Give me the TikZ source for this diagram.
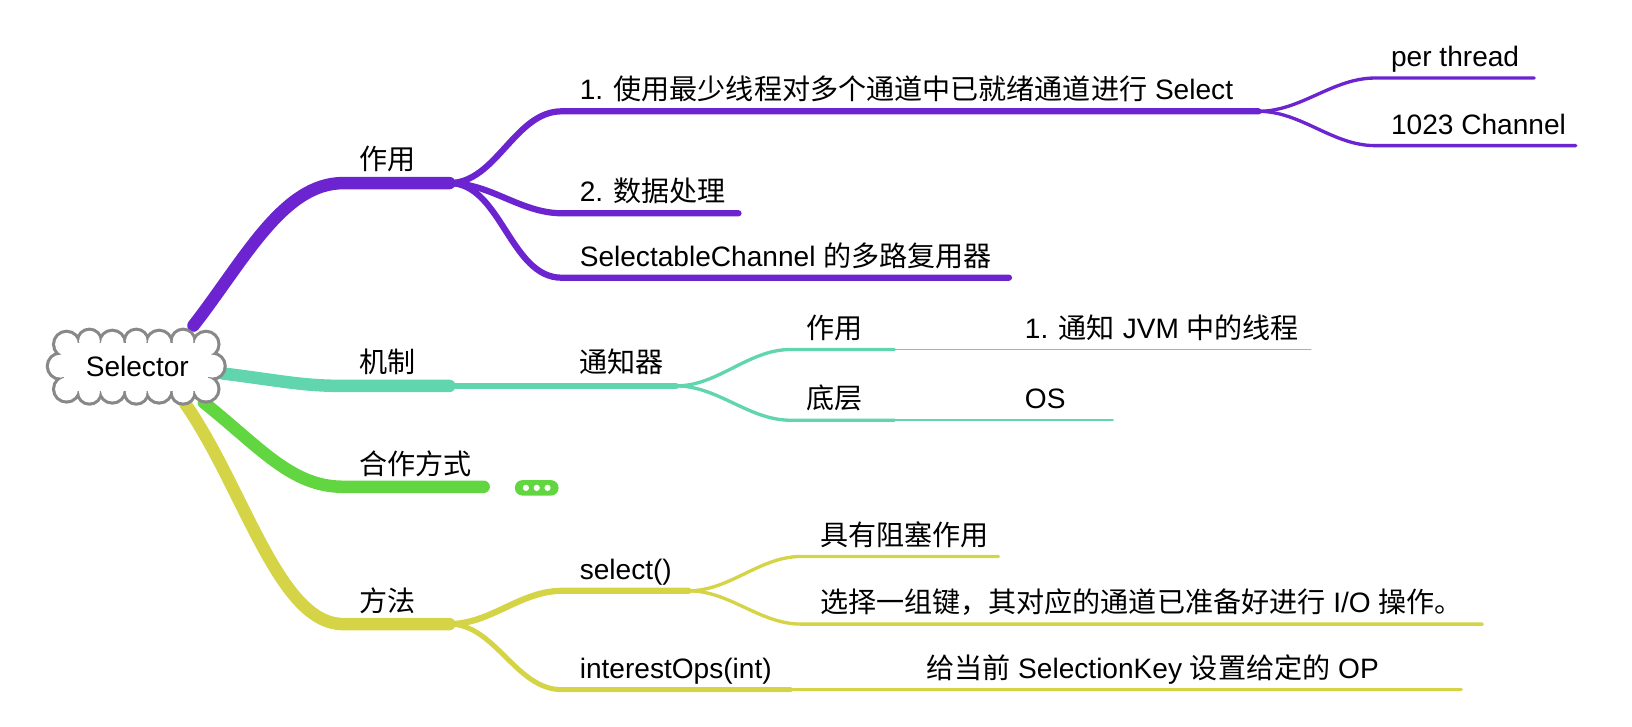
\documentclass[tikz,border=0pt]{standalone}
\usepackage{fontspec}
\setmainfont{Liberation Sans}
\newfontfamily\cjk{Noto Sans CJK SC}
\definecolor{cpur}{RGB}{107,36,208}
\definecolor{cteal}{RGB}{96,213,174}
\definecolor{cgrn}{RGB}{98,214,64}
\definecolor{cyel}{RGB}{212,212,70}
\definecolor{cgray}{RGB}{136,136,136}
\begin{document}
\begin{tikzpicture}[x=0.5pt,y=-0.5pt,
  lbl/.style={anchor=base west, inner sep=0pt, font=\fontsize{13.5}{16}\selectfont},
  br/.style={line cap=round, line join=round},
  w1/.style={br, line width=6pt},
  w2/.style={br, line width=3pt},
  w3/.style={br, line width=1.6pt},
  w4/.style={br, line width=0.9pt},
  sc/.style={out=0, in=180, looseness=0.9}]
\useasboundingbox (0,0) rectangle (1569,698);

% ---------- coordinates ----------
\coordinate (rp) at (186,313);
\coordinate (rt) at (214,359);
\coordinate (rg) at (196,387);
\coordinate (ry) at (178,388);
% purple
\coordinate (p1a) at (330,176); \coordinate (p1b) at (432,176);
\coordinate (p11a) at (540,107); \coordinate (p11b) at (1210,107);
\coordinate (p12a) at (540,205); \coordinate (p12b) at (710,205);
\coordinate (p13a) at (540,267); \coordinate (p13b) at (970,267);
\coordinate (p111a) at (1322,75); \coordinate (p111b) at (1475,75);
\coordinate (p112a) at (1322,140); \coordinate (p112b) at (1515,140);
% teal
\coordinate (t1a) at (330,371); \coordinate (t1b) at (432,371);
\coordinate (t11b) at (650,371);
\coordinate (t111a) at (760,336); \coordinate (t111b) at (860,336);
\coordinate (t1111b) at (1260,336);
\coordinate (t112a) at (760,404); \coordinate (t112b) at (860,404);
\coordinate (t1121b) at (1070,404);
% green
\coordinate (g1a) at (330,468); \coordinate (g1b) at (465,468);
% yellow
\coordinate (y1a) at (330,600); \coordinate (y1b) at (432,600);
\coordinate (y11a) at (540,568); \coordinate (y11b) at (662,568);
\coordinate (y111a) at (770,535); \coordinate (y111b) at (960,535);
\coordinate (y112a) at (770,600); \coordinate (y112b) at (1425,600);
\coordinate (y12a) at (540,663); \coordinate (y12b) at (760,663);
\coordinate (y121b) at (1405,663);

% ---------- purple branch ----------
\draw[w1, cpur] (rp) .. controls (235,250) and (272,176) .. (p1a) -- (p1b);
\draw[w2, cpur] (p1b) to[sc] (p11a) -- (p11b);
\draw[w2, cpur] (p1b) to[sc] (p12a) -- (p12b);
\draw[w2, cpur] (p1b) to[sc] (p13a) -- (p13b);
\draw[w3, cpur] (p11b) to[sc] (p111a) -- (p111b);
\draw[w3, cpur] (p11b) to[sc] (p112a) -- (p112b);

% ---------- teal branch ----------
\draw[w1, cteal] (rt) .. controls (270,366) and (290,371) .. (t1a) -- (t1b);
\draw[w2, cteal] (t1b) -- (t11b);
\draw[w3, cteal] (t11b) to[sc] (t111a) -- (t111b);
\draw[w4, cteal] (t111b) -- (t1111b);
\draw[w3, cteal] (t11b) to[sc] (t112a) -- (t112b);
\draw[w4, cteal] (t112b) -- (t1121b);

% ---------- green branch ----------
\draw[w1, cgrn] (rg) .. controls (250,430) and (280,468) .. (g1a) -- (g1b);
\node[name=more, fill=cgrn, rounded corners=3.6pt, minimum width=21pt, minimum height=7.4pt, inner sep=0pt] at (516,469) {};
\fill[white] (more.center) circle (1.5pt);
\fill[white] ([xshift=-5.2pt]more.center) circle (1.5pt);
\fill[white] ([xshift=5.2pt]more.center) circle (1.5pt);

% ---------- yellow branch ----------
\draw[w1, cyel] (ry) .. controls (235,470) and (268,600) .. (y1a) -- (y1b);
\draw[w2, cyel] (y1b) to[sc] (y11a) -- (y11b);
\draw[br, line width=2.4pt, cyel] (y1b) to[sc] (y12a) -- (y12b);
\draw[br, line width=1.3pt, cyel] (y12b) -- (y121b);
\draw[w3, cyel] (y11b) to[sc] (y111a) -- (y111b);
\draw[w3, cyel] (y11b) to[sc] (y112a) -- (y112b);

% ---------- central cloud (union of puffs) ----------
\def\puffs{(64,331) circle (5.5pt) (86,328) circle (5pt) (108,330) circle (5.5pt)
  (131,328) circle (5pt) (153,330) circle (5.5pt) (176,328) circle (5pt)
  (198,331) circle (5.5pt)
  (64,374) circle (5.5pt) (86,377) circle (5pt) (108,375) circle (5.5pt)
  (131,377) circle (5pt) (153,375) circle (5.5pt) (176,377) circle (5pt)
  (198,374) circle (5.5pt)
  (58,352) circle (5.5pt) (204,352) circle (5.5pt)}
\draw[cgray, line width=3pt] \puffs;
\fill[white] \puffs;
\fill[white] (62,330) rectangle (200,376);
\node[name=sel, inner sep=0pt, font=\fontsize{13.5}{16}\selectfont] at (132,352) {Selector};

% ---------- labels ----------
\node[lbl] (tp1) at (345,163) {\cjk 作用};
\node[lbl] (tp11) at (557,96) {1. {\cjk 使用最少线程对多个通道中已就绪通道进行} Select};
\node[lbl] (tp111) at (1337,64) {per thread};
\node[lbl] (tp112) at (1337,129) {1023 Channel};
\node[lbl] (tp12) at (557,194) {2. {\cjk 数据处理}};
\node[lbl] (tp13) at (557,256) {SelectableChannel {\cjk 的多路复用器}};

\node[lbl] (tt1) at (345,358) {\cjk 机制};
\node[lbl] (tt11) at (557,358) {\cjk 通知器};
\node[lbl] (tt111) at (775,325) {\cjk 作用};
\node[lbl] (tt1111) at (985,325) {1. {\cjk 通知} JVM {\cjk 中的线程}};
\node[lbl] (tt112) at (775,393) {\cjk 底层};
\node[lbl] (tt1121) at (985,393) {OS};

\node[lbl] (tg1) at (345,456) {\cjk 合作方式};

\node[lbl] (ty1) at (345,588) {\cjk 方法};
\node[lbl] (ty11) at (557,557) {select()};
\node[lbl] (ty111) at (788,524) {\cjk 具有阻塞作用};
\node[lbl] (ty112) at (788,589) {{\cjk 选择一组键，其对应的通道已准备好进行} I/O {\cjk 操作。}};
\node[lbl] (ty12) at (557,652) {interestOps(int)};
\node[lbl] (ty121) at (890,652) {{\cjk 给当前} SelectionKey {\cjk 设置给定的} OP};
\end{tikzpicture}
\end{document}
